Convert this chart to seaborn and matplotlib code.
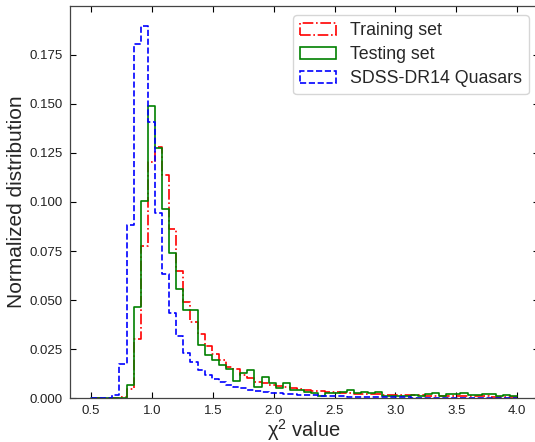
import numpy as np
import pandas as pd
import matplotlib
matplotlib.use("Agg")
import matplotlib.pyplot as plt
from matplotlib.patches import Patch
import seaborn as sns

# chi2 histograms, 60 bins between 0.5 and 4.0, normalized (fractions)
x_min, x_max, n_bins = 0.5, 4.0, 60

training = [0, 0, 0, 0, 0.0005, 0.0046, 0.0300, 0.0775, 0.1203, 0.1280,
            0.1136, 0.0860, 0.0649, 0.0491, 0.0391, 0.0328, 0.0264, 0.0224, 0.0193, 0.0158,
            0.0147, 0.0118, 0.0104, 0.0084, 0.0078, 0.0070, 0.0065, 0.0058, 0.0052, 0.0047,
            0.0042, 0.0038, 0.0035, 0.0032, 0.0030, 0.0028, 0.0026, 0.0024, 0.0023, 0.0021,
            0.0020, 0.0019, 0.0018, 0.0017, 0.0016, 0.0015, 0.0015, 0.0014, 0.0013, 0.0013,
            0.0012, 0.0012, 0.0011, 0.0011, 0.0010, 0.0010, 0.0009, 0.0009, 0.0008, 0.0008]

testing = [0, 0, 0, 0, 0.0003, 0.0068, 0.0463, 0.1005, 0.1487, 0.1277,
           0.0966, 0.0738, 0.0556, 0.0449, 0.0449, 0.0270, 0.0219, 0.0195, 0.0171, 0.0147,
           0.0088, 0.0131, 0.0146, 0.0059, 0.0110, 0.0076, 0.0051, 0.0076, 0.0042, 0.0042,
           0.0034, 0.0025, 0.0013, 0.0025, 0.0029, 0.0034, 0.0042, 0.0025, 0.0034, 0.0029,
           0.0034, 0.0012, 0.0013, 0.0012, 0.0010, 0.0015, 0.0012, 0.0020, 0.0025, 0.0012,
           0.0023, 0.0023, 0.0029, 0.0017, 0.0015, 0.0023, 0.0023, 0.0013, 0.0015, 0.0010]

sdss = [0, 0, 0, 0.0017, 0.0174, 0.0881, 0.1806, 0.1899, 0.1408, 0.0944,
        0.0631, 0.0437, 0.0317, 0.0232, 0.0185, 0.0144, 0.0119, 0.0098, 0.0083, 0.0070,
        0.0060, 0.0051, 0.0044, 0.0037, 0.0034, 0.0029, 0.0025, 0.0022, 0.0020, 0.0018,
        0.0016, 0.0015, 0.0013, 0.0012, 0.0011, 0.0010, 0.0009, 0.0008, 0.0008, 0.0007,
        0.0007, 0.0006, 0.0006, 0.0005, 0.0005, 0.0004, 0.0004, 0.0004, 0.0003, 0.0003,
        0.0003, 0.0003, 0.0002, 0.0002, 0.0002, 0.0002, 0.0002, 0.0001, 0.0001, 0.0001]

labels = ["Training set", "Testing set", "SDSS-DR14 Quasars"]
colors = ["red", "green", "blue"]
styles = ["-.", "-", "--"]

edges = list(np.linspace(x_min, x_max, n_bins + 1))
centers = [(a + b) / 2 for a, b in zip(edges[:-1], edges[1:])]

sns.set_style("ticks")
plt.rcParams["font.family"] = ["Liberation Sans", "DejaVu Sans"]
plt.rcParams["mathtext.default"] = "regular"

fig = plt.figure(figsize=(5.35, 4.42), dpi=100)
ax = fig.add_axes([0.1303, 0.0989, 0.8764, 0.8882])

for vals, c, ls in zip([training, testing, sdss], colors, styles):
    df = pd.DataFrame({"chi2": centers, "frac": vals})
    sns.histplot(data=df, x="chi2", weights="frac", bins=edges, element="step", fill=False,
                 color=c, linestyle=ls, linewidth=1.2, ax=ax)

# legend with box handles like matplotlib step hist
handles = [Patch(facecolor="none", edgecolor=c, linestyle=ls, linewidth=1.2, label=l)
           for l, c, ls in zip(labels, colors, styles)]
ax.legend(handles=handles, loc="upper right", bbox_to_anchor=(0.9795, 0.9763),
          borderaxespad=0, fontsize=12.8, frameon=True, labelspacing=0.4)

ax.set_xlim(0.325, 4.175)
ax.set_ylim(0, 0.2)
xt = np.arange(0.5, 4.01, 0.5)
yt = np.arange(0, 0.176, 0.025)
ax.set_xticks(xt)
ax.set_xticklabels([f"{t:.1f}" for t in xt])
ax.set_yticks(yt)
ax.set_yticklabels([f"{t:.3f}" for t in yt])
ax.tick_params(direction="in", top=True, right=True, length=4, width=0.8,
               labelsize=9.5, pad=5, colors="black", labelcolor="#222222")
for s in ax.spines.values():
    s.set_color("#444444")
    s.set_linewidth(0.9)

ax.set_xlabel("χ$^2$ value", fontsize=14.5)
ax.xaxis.set_label_coords(0.5, -0.047)
ax.set_ylabel("Normalized distribution", fontsize=15)
ax.yaxis.set_label_coords(-0.093, 0.5)

fig.savefig("out.png", dpi=100)
